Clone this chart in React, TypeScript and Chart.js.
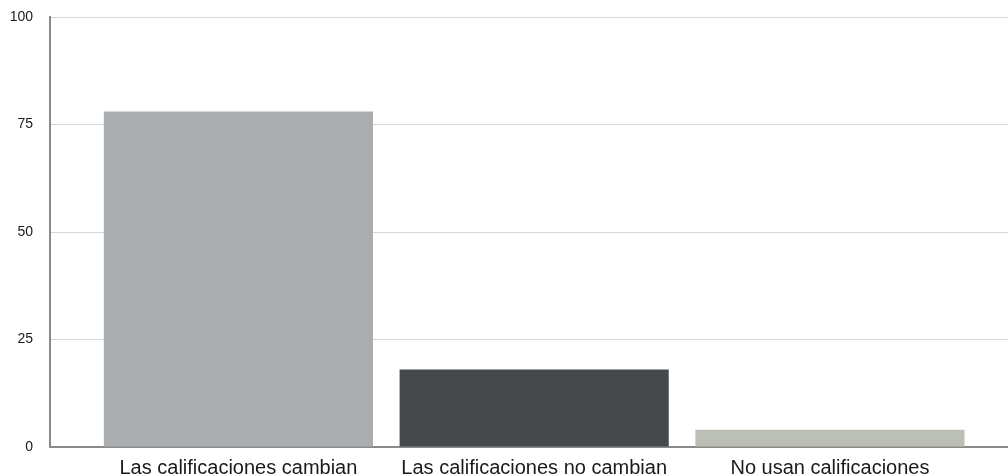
import React, { useEffect, useRef } from "react";
import { Chart, registerables } from "chart.js";

Chart.register(...registerables);

const categories = [
  "Las calificaciones cambian",
  "Las calificaciones no cambian",
  "No usan calificaciones",
];
const values = [78, 18, 4];
const positions = [0, 1, 2];
const yTicks = [0, 25, 50, 75, 100];
const barColors = ["#aaaeb1", "#45494b", "#bbbfb5"];

export default function App() {
  const ref = useRef<HTMLCanvasElement | null>(null);
  useEffect(() => {
    document.body.style.margin = "0";
    const ctx = ref.current!.getContext("2d")!;
    const chart = new Chart(ctx, {
      type: "bar",
      data: {
        datasets: [
          {
            data: positions.map((p, i) => ({ x: p, y: values[i] })),
            backgroundColor: barColors,
            borderWidth: 0,
            barPercentage: 0.91,
            categoryPercentage: 1,
          },
        ],
      },
      options: {
        animation: false,
        responsive: false,
        maintainAspectRatio: false,
        layout: { padding: { top: 17, left: 0, right: 0, bottom: 0 } },
        plugins: { legend: { display: false }, tooltip: { enabled: false } },
        scales: {
          x: {
            type: "linear",
            offset: false,
            min: -0.637,
            max: 2.602,
            afterFit: (axis: any) => {
              axis.height = 29;
              axis.paddingLeft = 0;
              axis.paddingRight = 0;
            },
            afterBuildTicks: (axis: any) => {
              axis.ticks = positions.map((v) => ({ value: v }));
            },
            grid: { display: false, drawTicks: false, offset: false },
            border: { display: true, color: "#8a8a8a", width: 2 },
            ticks: {
              autoSkip: false,
              maxRotation: 0,
              padding: 9,
              color: "#1a1a1a",
              font: { family: "Liberation Sans", size: 20 },
              callback: (v: any) => categories[positions.indexOf(Number(v))] ?? "",
            },
          },
          y: {
            min: 0,
            max: 100,
            afterFit: (axis: any) => {
              axis.width = 50;
              axis.paddingTop = 0;
              axis.paddingBottom = 0;
            },
            afterBuildTicks: (axis: any) => {
              axis.ticks = yTicks.map((v) => ({ value: v }));
            },
            grid: { color: "#d6d6d6", lineWidth: 1, drawTicks: false },
            border: { display: true, color: "#8a8a8a", width: 2 },
            ticks: {
              padding: 17,
              color: "#1a1a1a",
              font: { family: "Liberation Sans", size: 14 },
            },
          },
        },
      },
    });
    return () => chart.destroy();
  }, []);
  return <canvas ref={ref} width={1008} height={476} style={{ display: "block" }} />;
}
